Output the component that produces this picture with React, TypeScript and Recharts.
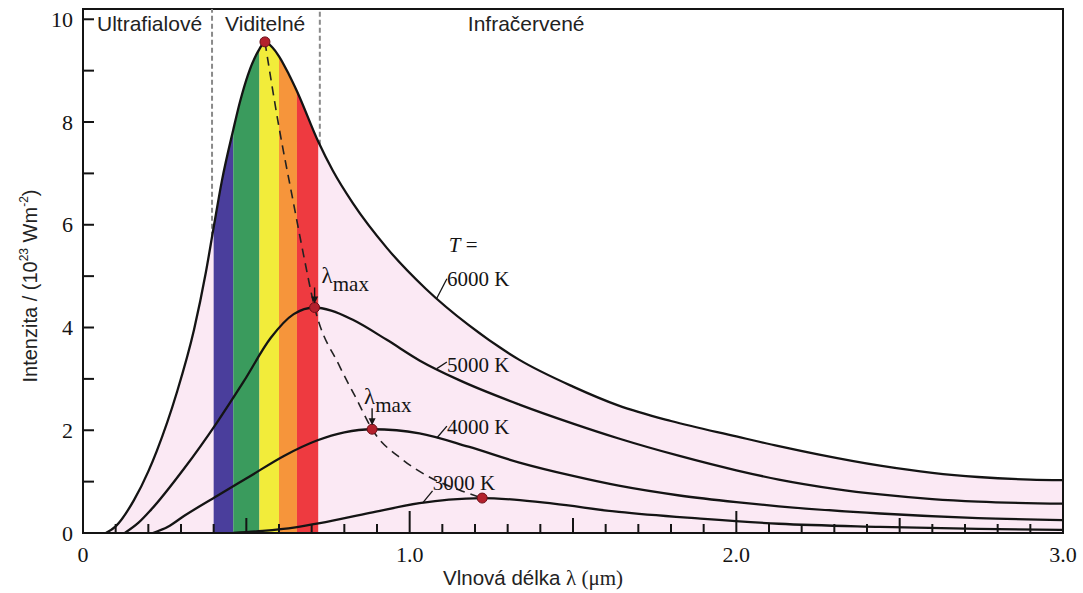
import React from 'react'
import {
  ComposedChart,
  Line,
  Area,
  Scatter,
  XAxis,
  YAxis,
  ReferenceLine,
  ReferenceDot,
  ReferenceArea,
  Label,
} from 'recharts'

const SERIF = "'Liberation Serif', 'Times New Roman', serif"
const SANS = "'Liberation Sans', Arial, sans-serif"
const INK = '#141414'

// curves: [wavelength in µm, intensity]
const t6000 = [
  [0.07, 0], [0.1, 0.13], [0.156, 0.64], [0.2, 1.2], [0.226, 1.6], [0.287, 2.73],
  [0.34, 3.96], [0.376, 5.07], [0.4, 5.95], [0.425, 6.85], [0.46, 7.85], [0.48, 8.38],
  [0.505, 8.92], [0.54, 9.42], [0.557, 9.56], [0.58, 9.45], [0.6, 9.28], [0.63, 8.93],
  [0.655, 8.6], [0.72, 7.62], [0.765, 7.05], [0.826, 6.42], [0.93, 5.55], [1.05, 4.75],
  [1.18, 4.05], [1.336, 3.37], [1.5, 2.85], [1.64, 2.48], [1.8, 2.18], [2.0, 1.88],
  [2.13, 1.69], [2.25, 1.53], [2.44, 1.31], [2.6, 1.17], [2.74, 1.09], [2.9, 1.04], [3.0, 1.03],
]
const t5000 = [
  [0.128, 0], [0.17, 0.2], [0.208, 0.45], [0.309, 1.25], [0.41, 2.15], [0.492, 2.95],
  [0.575, 3.8], [0.645, 4.26], [0.709, 4.39], [0.76, 4.33], [0.826, 4.15], [0.93, 3.76],
  [1.03, 3.36], [1.15, 2.98], [1.336, 2.5], [1.5, 2.13], [1.64, 1.84], [1.826, 1.5],
  [2.0, 1.22], [2.13, 1.04], [2.3, 0.86], [2.44, 0.75], [2.6, 0.66], [2.74, 0.61], [3.0, 0.57],
]
const t4000 = [
  [0.214, 0], [0.26, 0.12], [0.309, 0.33], [0.41, 0.72], [0.51, 1.1], [0.615, 1.5],
  [0.716, 1.8], [0.8, 1.96], [0.885, 2.02], [0.96, 2.0], [1.03, 1.94], [1.18, 1.68],
  [1.336, 1.37], [1.5, 1.11], [1.64, 0.92], [1.826, 0.73], [2.0, 0.6], [2.13, 0.52],
  [2.44, 0.38], [2.74, 0.29], [3.0, 0.25],
]
const t3000 = [
  [0.46, 0], [0.55, 0.04], [0.65, 0.11], [0.725, 0.19], [0.878, 0.39], [1.03, 0.58],
  [1.12, 0.65], [1.222, 0.68], [1.32, 0.65], [1.44, 0.57], [1.64, 0.41], [1.89, 0.28],
  [2.13, 0.18], [2.44, 0.12], [2.74, 0.08], [3.0, 0.06],
]
// dashed locus through the maxima
const wienPath = [
  [0.557, 9.56], [0.6, 7.9], [0.642, 6.5], [0.675, 5.42], [0.709, 4.39], [0.786, 3.24],
  [0.838, 2.6], [0.885, 2.02], [0.98, 1.42], [1.06, 1.09], [1.15, 0.84], [1.222, 0.68],
]
const peaks = [[0.557, 9.56], [0.709, 4.39], [0.885, 2.02], [1.222, 0.68]]

const bandEdges = [0.4, 0.46, 0.54, 0.6, 0.655, 0.72]
const bandColors = ['#4a3e9c', '#3a9b5d', '#f2ec3a', '#f6953b', '#ee3a40']
const visibleLimits = [0.395, 0.725]

const xTicks = [
  0, 0.1, 0.2, 0.3, 0.4, 0.5, 0.6, 0.7, 0.8, 0.9, 1.0, 1.1, 1.2, 1.3, 1.4, 1.5,
  1.6, 1.7, 1.8, 1.9, 2.0, 2.1, 2.2, 2.3, 2.4, 2.5, 2.6, 2.7, 2.8, 2.9, 3.0,
]
const yTicks = [0, 1, 2, 3, 4, 5, 6, 7, 8, 9, 10]
const Y_TOP = 10.2

const toPoints = (pairs: number[][]) => pairs.map(([x, y]) => ({ x, y }))
const pts6000 = toPoints(t6000)

const valueAt = (pairs: number[][], x: number) => {
  for (let i = 1; i < pairs.length; i++) {
    const [x0, y0] = pairs[i - 1]
    const [x1, y1] = pairs[i]
    if (x >= x0 && x <= x1) return y0 + ((y1 - y0) * (x - x0)) / (x1 - x0)
  }
  return 0
}

const XTick = (props: any) => {
  const { x, y, payload } = props
  const v = payload.value
  const tenth = Math.round(v * 10)
  const isMajor = tenth % 10 === 0
  const isHalf = tenth % 5 === 0
  const len = isMajor ? 22 : isHalf ? 15 : 9
  return (
    <g>
      <line x1={x} x2={x} y1={y} y2={y - len} stroke={INK} strokeWidth={2} />
      {isMajor && (
        <text x={x} y={y + 29} textAnchor="middle" fontFamily={SERIF} fontSize={22} fill={INK}>
          {v === 0 ? '0' : v.toFixed(1)}
        </text>
      )}
    </g>
  )
}

const YTick = (props: any) => {
  const { x, y, payload } = props
  const v = payload.value
  return (
    <g>
      <line x1={x} x2={x + 11} y1={y} y2={y} stroke={INK} strokeWidth={2} />
      {v % 2 === 0 && (
        <text x={x - 10} y={y + 7.5} textAnchor="end" fontFamily={SERIF} fontSize={22} fill={INK}>
          {v}
        </text>
      )}
    </g>
  )
}

const center = (props: any) => {
  const vb = props.viewBox || {}
  return { cx: (vb.x ?? 0) + (vb.width ?? 0) / 2, cy: (vb.y ?? 0) + (vb.height ?? 0) / 2 }
}

const note = (render: (cx: number, cy: number) => React.ReactNode) => (props: any) => {
  const { cx, cy } = center(props)
  return <g>{render(cx, cy)}</g>
}

const sansText = (text: string) =>
  note((cx, cy) => (
    <text x={cx} y={cy} fontFamily={SANS} fontSize={21} fill="#222">
      {text}
    </text>
  ))

const serifText = (text: string) =>
  note((cx, cy) => (
    <text x={cx} y={cy} fontFamily={SERIF} fontSize={21} fill={INK}>
      {text}
    </text>
  ))

const lambdaMax = (dx: number, dy: number, a0: number) =>
  note((cx, cy) => (
    <g>
      <line x1={cx} y1={cy - a0} x2={cx} y2={cy - 10} stroke={INK} strokeWidth={1.4} />
      <polygon points={`${cx - 3.5},${cy - 11} ${cx + 3.5},${cy - 11} ${cx},${cy - 4}`} fill={INK} />
      <text x={cx + dx} y={cy + dy} fontFamily={SERIF} fontSize={23} fill={INK}>
        λ
        <tspan fontSize={21} dy={8}>
          max
        </tspan>
      </text>
    </g>
  ))

const XTitle = (props: any) => {
  const vb = props.viewBox || {}
  return (
    <text x={vb.x + 360} y={vb.y + 52} fontFamily={SANS} fontSize={20.5} fill="#222">
      Vlnová délka{' '}
      <tspan fontFamily={SERIF} fontSize={21}>
        λ (μm)
      </tspan>
    </text>
  )
}

const YTitle = (props: any) => {
  const vb = props.viewBox || {}
  const x = 37
  const y = (vb.y ?? 0) + (vb.height ?? 0) / 2 + 15
  return (
    <text
      x={x}
      y={y}
      textAnchor="middle"
      transform={`rotate(-90 ${x} ${y})`}
      fontFamily={SANS}
      fontSize={20}
      fill="#222"
    >
      Intenzita / (10
      <tspan fontSize={12} dy={-9}>
        23
      </tspan>
      <tspan dy={9}> Wm</tspan>
      <tspan fontSize={12} dy={-9}>
        -2
      </tspan>
      <tspan dy={9}>)</tspan>
    </text>
  )
}

const Peak = (props: any) => (
  <circle cx={props.cx} cy={props.cy} r={5} fill="#b3202c" stroke="#6d0f18" strokeWidth={1} />
)

export default function App() {
  return (
    <div style={{ width: 1083, height: 593, background: '#fff' }}>
      <style>{'body{margin:0}'}</style>
      <ComposedChart width={1083} height={593} margin={{ top: 9, right: 20, bottom: 0, left: 23 }}>
        <XAxis
          type="number"
          dataKey="x"
          domain={[0, 3]}
          ticks={xTicks}
          interval={0}
          allowDataOverflow
          tickSize={0}
          tickMargin={0}
          tickLine={false}
          tick={XTick}
          height={60}
          axisLine={{ stroke: INK, strokeWidth: 2 }}
        >
          <Label content={XTitle} />
        </XAxis>
        <YAxis
          type="number"
          dataKey="y"
          domain={[0, Y_TOP]}
          ticks={yTicks}
          interval={0}
          allowDataOverflow
          tickSize={0}
          tickMargin={0}
          tickLine={false}
          tick={YTick}
          width={60}
          axisLine={{ stroke: INK, strokeWidth: 2 }}
        >
          <Label content={YTitle} />
        </YAxis>

        <Area
          data={pts6000}
          dataKey="y"
          type="monotone"
          stroke="none"
          fill="#fbe9f4"
          fillOpacity={1}
          isAnimationActive={false}
        />
        {bandColors.map((color, i) => (
          <Area
            key={color}
            data={pts6000.filter((p) => p.x >= bandEdges[i] - 1e-9 && p.x <= bandEdges[i + 1] + 1e-9)}
            dataKey="y"
            type="monotone"
            stroke="none"
            fill={color}
            fillOpacity={1}
            isAnimationActive={false}
          />
        ))}

        {visibleLimits.map((v) => (
          <ReferenceLine
            key={v}
            segment={[
              { x: v, y: valueAt(t6000, v) },
              { x: v, y: Y_TOP },
            ]}
            stroke="#8a8a8a"
            strokeWidth={2}
            strokeDasharray="5 3"
          />
        ))}

        <ReferenceArea x1={0} x2={3} y1={0} y2={Y_TOP} fill="none" stroke={INK} strokeWidth={2} />

        {[t6000, t5000, t4000, t3000].map((c, i) => (
          <Line
            key={i}
            data={toPoints(c)}
            dataKey="y"
            type="monotone"
            stroke={INK}
            strokeWidth={2.3}
            dot={false}
            isAnimationActive={false}
          />
        ))}
        <Line
          data={toPoints(wienPath)}
          dataKey="y"
          type="monotone"
          stroke="#222"
          strokeWidth={1.6}
          strokeDasharray="9 6"
          dot={false}
          isAnimationActive={false}
        />

        {/* leader strokes from labels to curves */}
        <ReferenceLine segment={[{ x: 1.083, y: 4.57 }, { x: 1.114, y: 4.95 }]} stroke={INK} strokeWidth={1.3} />
        <ReferenceLine segment={[{ x: 1.083, y: 3.2 }, { x: 1.114, y: 3.33 }]} stroke={INK} strokeWidth={1.3} />
        <ReferenceLine segment={[{ x: 1.083, y: 1.85 }, { x: 1.114, y: 2.08 }]} stroke={INK} strokeWidth={1.3} />
        <ReferenceLine segment={[{ x: 1.04, y: 0.585 }, { x: 1.07, y: 0.82 }]} stroke={INK} strokeWidth={1.3} />

        <Scatter data={toPoints(peaks)} dataKey="y" shape={Peak} isAnimationActive={false} />

        <ReferenceDot x={0.043} y={9.78} r={0} fill="none" stroke="none" label={sansText('Ultrafialové')} />
        <ReferenceDot x={0.435} y={9.78} r={0} fill="none" stroke="none" label={sansText('Viditelné')} />
        <ReferenceDot x={1.178} y={9.78} r={0} fill="none" stroke="none" label={sansText('Infračervené')} />

        <ReferenceDot
          x={1.12}
          y={5.47}
          r={0}
          fill="none"
          stroke="none"
          label={note((cx, cy) => (
            <text x={cx} y={cy} fontFamily={SERIF} fontSize={21} fill={INK}>
              <tspan fontStyle="italic">T</tspan> =
            </text>
          ))}
        />
        <ReferenceDot x={1.114} y={4.81} r={0} fill="none" stroke="none" label={serifText('6000 K')} />
        <ReferenceDot x={1.114} y={3.13} r={0} fill="none" stroke="none" label={serifText('5000 K')} />
        <ReferenceDot x={1.114} y={1.93} r={0} fill="none" stroke="none" label={serifText('4000 K')} />
        <ReferenceDot x={1.071} y={0.84} r={0} fill="none" stroke="none" label={serifText('3000 K')} />

        <ReferenceDot x={0.709} y={4.39} r={0} fill="none" stroke="none" label={lambdaMax(7, -24, 20)} />
        <ReferenceDot x={0.885} y={2.02} r={0} fill="none" stroke="none" label={lambdaMax(-8, -25, 21)} />
      </ComposedChart>
    </div>
  )
}
